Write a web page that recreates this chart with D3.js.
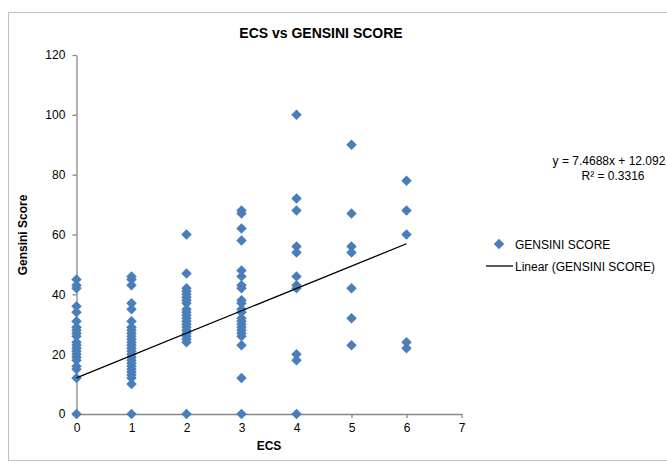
<!DOCTYPE html>
<html><head><meta charset="utf-8">
<script src="https://cdn.jsdelivr.net/npm/d3@7"></script>
<style>body{margin:0;background:#fff;} svg{display:block;font-family:"Liberation Sans",Arial,sans-serif;}</style>
</head><body>
<svg id="c" width="667" height="467"></svg>
<script>
const ecs = [0,1,2,3,4,5,6];
const scores0 = [45,43,42,36,34,31,29,28,27,26,24,23,22,21,20,19,18,16,15,12,0];
const scores1 = [46,45,43,37,35,31,29,28,27,26,25,24,23,22,21,20,19,18,17,16,15,14,13,12,10,0];
const scores2 = [60,47,42,41,40,39,38,37,35,34,33,32,31,30,29,28,27,26,25,24,0];
const scores3 = [68,67,62,58,48,46,43,42,38,37,35,34,32,31,30,29,28,27,26,23,12,0];
const scores4 = [100,72,68,56,54,46,43,42,20,18,0];
const scores5 = [90,67,56,54,42,32,23];
const scores6 = [78,68,60,24,22];
const xTicks = [0,1,2,3,4,5,6,7];
const yTicks = [0,20,40,60,80,100,120];
const trendSlope = 7.4688, trendIntercept = 12.092, rSquared = 0.3316;

const allScores = [scores0,scores1,scores2,scores3,scores4,scores5,scores6];
const points = [];
ecs.forEach((e,i)=>allScores[i].forEach(s=>points.push({x:e,y:s})));

const svg = d3.select("#c");
const blue = "#4a7ebb";
svg.append("rect").attr("x",8.5).attr("y",12.5).attr("width",700).attr("height",448)
  .attr("fill","#fff").attr("stroke","#bfbfbf");

const x = d3.scaleLinear().domain([0,7]).range([76.5,461.5]);
const y = d3.scaleLinear().domain([0,120]).range([414,55]);

const gx = svg.append("g").attr("transform","translate(0,414)")
  .call(d3.axisBottom(x).tickValues(xTicks).tickFormat(d3.format("d")).tickSize(4).tickSizeOuter(0));
const gy = svg.append("g").attr("transform","translate(76.5,0)")
  .call(d3.axisLeft(y).tickValues(yTicks).tickFormat(d3.format("d")).tickSize(4).tickSizeOuter(0));
[gx,gy].forEach(g=>{
  g.selectAll("path,line").attr("stroke","#868686").attr("stroke-width",1.3);
  g.selectAll("text").attr("fill","#000").style("font-size","12px").style("font-family","Liberation Sans, Arial, sans-serif");
});
gx.selectAll("text").attr("dy","0.95em");
gy.selectAll("text").attr("dx","-0.35em");

const diamond = d3.symbol().type(d3.symbolDiamond2).size(70);
svg.append("g").selectAll("path").data(points).join("path")
  .attr("d",diamond).attr("transform",d=>`translate(${x(d.x)},${y(d.y)})`)
  .attr("fill",blue);

const trend = [0,6].map(v=>({x:v,y:trendIntercept+trendSlope*v}));
svg.append("path").datum(trend)
  .attr("d",d3.line().x(d=>x(d.x)).y(d=>y(d.y)))
  .attr("stroke","#000").attr("stroke-width",1.3).attr("fill","none");

svg.append("text").attr("x",321).attr("y",38).attr("text-anchor","middle")
  .style("font-size","14px").style("font-weight","bold").text("ECS vs GENSINI SCORE");
svg.append("text").attr("x",269).attr("y",450).attr("text-anchor","middle")
  .style("font-size","12px").style("font-weight","bold").text("ECS");
svg.append("text").attr("transform","translate(27,235) rotate(-90)").attr("text-anchor","middle")
  .style("font-size","12px").style("font-weight","bold").text("Gensini Score");

svg.append("text").attr("x",609).attr("y",165).attr("text-anchor","middle")
  .style("font-size","12px").text(`y = ${trendSlope}x + ${trendIntercept}`);
svg.append("text").attr("x",613).attr("y",180).attr("text-anchor","middle")
  .style("font-size","12px").text(`R² = ${rSquared}`);

const lg = svg.append("g");
lg.append("path").attr("d",diamond).attr("transform","translate(499,244)").attr("fill",blue);
lg.append("text").attr("x",515).attr("y",248.5).style("font-size","12px").text("GENSINI SCORE");
lg.append("line").attr("x1",486).attr("x2",513).attr("y1",266).attr("y2",266).attr("stroke","#000").attr("stroke-width",1.3);
lg.append("text").attr("x",515).attr("y",270.5).style("font-size","12px").text("Linear (GENSINI SCORE)");
</script>
</body></html>
